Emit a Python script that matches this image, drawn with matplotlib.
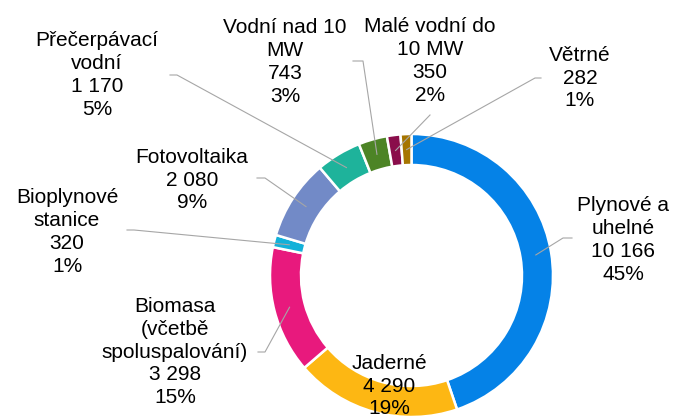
import numpy as np
import matplotlib
matplotlib.use('Agg')
import matplotlib.pyplot as plt

plt.rcParams['font.family'] = ['Liberation Sans', 'DejaVu Sans']

# Installed capacity by source (MW)
labels = ['Plynové a\nuhelné', 'Jaderné', 'Biomasa\n(včetbě\nspoluspalování)',
          'Bioplynové\nstanice', 'Fotovoltaika', 'Přečerpávací\nvodní',
          'Vodní nad 10\nMW', 'Malé vodní do\n10 MW', 'Větrné']
values = [10166, 4290, 3298, 320, 2080, 1170, 743, 350, 282]
colors = ['#0582E7', '#FDB713', '#E8197D', '#13B1D9', '#728AC7',
          '#1EB39B', '#4D8426', '#8A0E4B', '#A67500']

# label layout in pixels (x, y from top), leader start, kink
label_pos = [(623, 240), (389, 386), (175, 352), (67, 232), (192, 180),
             (97, 75), (285, 62), (430, 61), (580, 78)]
leader_start = [(572, 238), None, (258, 352), (127, 230), (257, 178),
                (170, 75), (353, 61), (430, 115), (541, 78)]
leader_kink = [(563, 238), None, (265, 352), (134, 230), (265, 178),
               (177, 75), (363, 61), None, (535, 78)]

W, H = 675, 417
cx, cy, r, ring = 411.5, H - 275.5, 141.5, 31

fig = plt.figure(figsize=(W / 100, H / 100), dpi=100)
ax = fig.add_axes([0, 0, 1, 1])
wedges, _ = ax.pie(values, colors=colors, startangle=90, counterclock=False,
                   center=(cx, cy), radius=r, frame=True,
                   wedgeprops=dict(width=ring, edgecolor='white', linewidth=1.8))
ax.set_xlim(0, W)
ax.set_ylim(0, H)
ax.set_aspect('equal')
ax.axis('off')

total = sum(values)
for i, w in enumerate(wedges):
    txt = f"{labels[i]}\n{values[i]:,}".replace(',', ' ') + f"\n{round(values[i] / total * 100)}%"
    lx, ly = label_pos[i]
    ax.text(lx, H - ly, txt, ha='center', va='center', multialignment='center',
            fontsize=15, linespacing=1.25, color='#000000')
    if leader_start[i] is None:
        continue
    ang = np.deg2rad((w.theta1 + w.theta2) / 2)
    px = cx + (r - ring / 2) * np.cos(ang)
    py = cy + (r - ring / 2) * np.sin(ang)
    xs = [leader_start[i][0]]
    ys = [H - leader_start[i][1]]
    if leader_kink[i] is not None:
        xs.append(leader_kink[i][0])
        ys.append(H - leader_kink[i][1])
    xs.append(px)
    ys.append(py)
    ax.plot(xs, ys, color='#A6A6A6', linewidth=0.8)

fig.savefig('out.png', dpi=100)
